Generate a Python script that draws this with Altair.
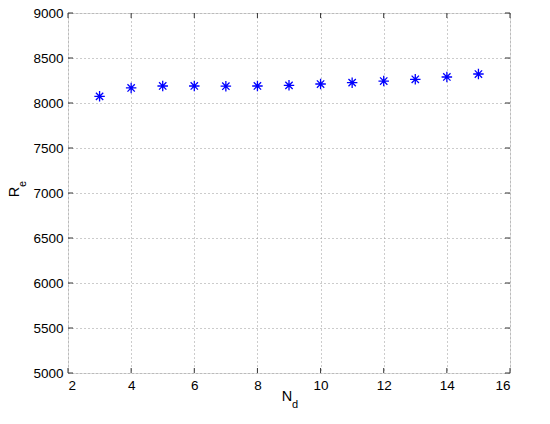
import altair as alt
import pandas as pd

nd = [3, 4, 5, 6, 7, 8, 9, 10, 11, 12, 13, 14, 15]
re_vals = [8074, 8167, 8189, 8189, 8187, 8189, 8196, 8211, 8226, 8244, 8263, 8289, 8322]
x_ticks = [2, 4, 6, 8, 10, 12, 14, 16]
y_ticks = [5000, 5500, 6000, 6500, 7000, 7500, 8000, 8500, 9000]

W, H = 442, 360
FONT = "Liberation Sans"

df = pd.DataFrame({"Nd": nd, "Re": re_vals})
xt = pd.DataFrame({"v": x_ticks})
yt = pd.DataFrame({"v": y_ticks})

xs = alt.Scale(domain=[2, 16], nice=False, zero=False)
ys = alt.Scale(domain=[5000, 9000], nice=False, zero=False)

asterisk = "M-1,0L1,0M0,-1L0,1M-0.7,-0.7L0.7,0.7M-0.7,0.7L0.7,-0.7"

points = alt.Chart(df).mark_point(
    shape=asterisk, filled=False, color="#0000ff", size=110, strokeWidth=1.3, opacity=1
).encode(
    x=alt.X("Nd:Q", scale=xs, axis=alt.Axis(
        values=x_ticks, format="d", grid=True, gridDash=[1, 3], gridColor="#999", gridWidth=1,
        ticks=False, domain=False, labelFont=FONT, labelFontSize=13.5, labelColor="#000",
        labelPadding=5, title=None)),
    y=alt.Y("Re:Q", scale=ys, axis=alt.Axis(
        values=y_ticks, format="d", grid=True, gridDash=[1, 3], gridColor="#999", gridWidth=1,
        ticks=False, domain=False, labelFont=FONT, labelFontSize=13.5, labelColor="#000",
        labelPadding=5, title=None)),
)

tick_len = 5
xt_bot = alt.Chart(xt).mark_rule(color="#333", strokeWidth=1).encode(
    x=alt.X("v:Q", scale=xs), y=alt.value(H), y2=alt.value(H - tick_len))
xt_top = alt.Chart(xt).mark_rule(color="#333", strokeWidth=1).encode(
    x=alt.X("v:Q", scale=xs), y=alt.value(0), y2=alt.value(tick_len))
yt_left = alt.Chart(yt).mark_rule(color="#333", strokeWidth=1).encode(
    y=alt.Y("v:Q", scale=ys), x=alt.value(0), x2=alt.value(tick_len))
yt_right = alt.Chart(yt).mark_rule(color="#333", strokeWidth=1).encode(
    y=alt.Y("v:Q", scale=ys), x=alt.value(W), x2=alt.value(W - tick_len))

xtitle_main = alt.Chart().mark_text(text="N", font=FONT, fontSize=14.5, color="#000",
                                    align="center", baseline="middle").encode(
    x=alt.value(219), y=alt.value(384))
xtitle_sub = alt.Chart().mark_text(text="d", font=FONT, fontSize=11, color="#000",
                                   align="center", baseline="middle").encode(
    x=alt.value(227), y=alt.value(392))
ytitle_main = alt.Chart().mark_text(text="R", font=FONT, fontSize=14.5, color="#000",
                                    align="center", baseline="middle", angle=270).encode(
    x=alt.value(-53), y=alt.value(179))
ytitle_sub = alt.Chart().mark_text(text="e", font=FONT, fontSize=11, color="#000",
                                   align="center", baseline="middle", angle=270).encode(
    x=alt.value(-45), y=alt.value(171))

chart = alt.layer(
    points, xt_bot, xt_top, yt_left, yt_right,
    xtitle_main, xtitle_sub, ytitle_main, ytitle_sub
).properties(
    width=W, height=H,
    autosize=alt.AutoSizeParams(type="none"),
    padding={"left": 60, "top": 5, "right": 32, "bottom": 51},
).configure_view(stroke="#333", strokeWidth=1.2).configure(background="white")

chart.save("out.html", embed_options={"renderer": "svg", "actions": False})
